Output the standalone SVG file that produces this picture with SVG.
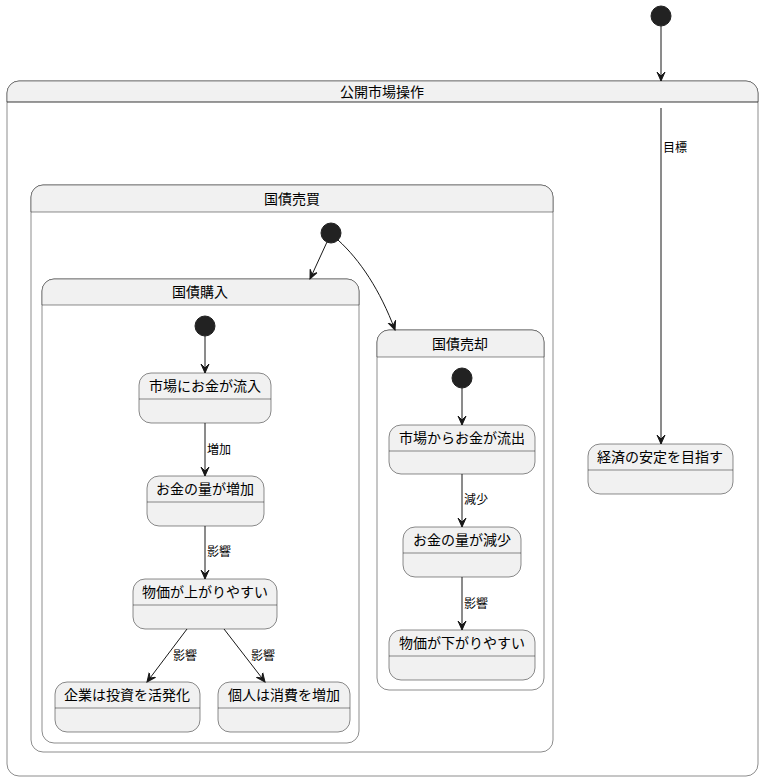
<svg xmlns="http://www.w3.org/2000/svg" width="764" height="781" viewBox="0 0 764 781">
<style>
.st{fill:#F1F1F1;stroke:#181818;stroke-width:0.5}
.dv{stroke:#181818;stroke-width:0.5;fill:none}
.t{font-family:"Noto Sans CJK JP","Liberation Sans",sans-serif;font-size:14px;fill:#000;text-anchor:middle}
.l{font-family:"Noto Sans CJK JP","Liberation Sans",sans-serif;font-size:12px;fill:#000}
.e{stroke:#181818;stroke-width:1;fill:none;marker-end:url(#ah)}
.s{fill:#222222;stroke:#222222}
</style>
<defs>
<marker id="ah" viewBox="0 0 10 10" refX="9" refY="5" markerWidth="10" markerHeight="10" markerUnits="userSpaceOnUse" orient="auto">
<path d="M0,1 L9,5 L0,9 L4,5 Z" fill="#181818" stroke="#181818" stroke-width="1"/>
</marker>
</defs>
<rect width="764" height="781" fill="#FFFFFF"/>
<g id="start_top"><circle class="s" cx="661" cy="16" r="10"/></g>
<g id="kokai">
<path class="st" d="M19,81 H746 A12,12 0 0 1 758,93 V764 A12,12 0 0 1 746,776 H19 A12,12 0 0 1 7,764 V93 A12,12 0 0 1 19,81 Z" style="fill:#FFFFFF"/>
<path class="st" d="M7,102 V93 A12,12 0 0 1 19,81 H746 A12,12 0 0 1 758,93 V102 Z"/>
<line class="dv" x1="7" y1="102" x2="758" y2="102"/>
<text class="t" x="382" y="97">公開市場操作</text>
</g>
<g id="keizai">
<rect class="st" x="588" y="444" width="145" height="50" rx="12"/>
<line class="dv" x1="588" y1="470" x2="733" y2="470"/>
<text class="t" x="660" y="462">経済の安定を目指す</text>
</g>
<g id="baibai">
<path class="st" d="M43,185 H541 A12,12 0 0 1 553,197 V740 A12,12 0 0 1 541,752 H43 A12,12 0 0 1 31,740 V197 A12,12 0 0 1 43,185 Z" style="fill:#FFFFFF"/>
<path class="st" d="M31,212 V197 A12,12 0 0 1 43,185 H541 A12,12 0 0 1 553,197 V212 Z"/>
<text class="t" x="292" y="204">国債売買</text>
</g>
<g id="start_baibai"><circle class="s" cx="331" cy="233" r="10"/></g>
<g id="konyu">
<path class="st" d="M54,279 H347 A12,12 0 0 1 359,291 V731 A12,12 0 0 1 347,743 H54 A12,12 0 0 1 42,731 V291 A12,12 0 0 1 54,279 Z" style="fill:#FFFFFF"/>
<path class="st" d="M42,305 V291 A12,12 0 0 1 54,279 H347 A12,12 0 0 1 359,291 V305 Z"/>
<text class="t" x="200" y="297">国債購入</text>
</g>
<g id="start_konyu"><circle class="s" cx="205" cy="326" r="10"/></g>
<g id="n1">
<rect class="st" x="139" y="373" width="132" height="50" rx="12"/>
<line class="dv" x1="139" y1="399" x2="271" y2="399"/>
<text class="t" x="205" y="391">市場にお金が流入</text>
</g>
<g id="n2">
<rect class="st" x="147" y="476" width="117" height="50" rx="12"/>
<line class="dv" x1="147" y1="502" x2="264" y2="502"/>
<text class="t" x="205" y="494">お金の量が増加</text>
</g>
<g id="n3">
<rect class="st" x="133" y="579" width="144" height="50" rx="12"/>
<line class="dv" x1="133" y1="605" x2="277" y2="605"/>
<text class="t" x="205" y="597">物価が上がりやすい</text>
</g>
<g id="n4">
<rect class="st" x="55" y="682" width="145" height="50" rx="12"/>
<line class="dv" x1="55" y1="708" x2="200" y2="708"/>
<text class="t" x="127" y="700">企業は投資を活発化</text>
</g>
<g id="n5">
<rect class="st" x="218" y="682" width="132" height="50" rx="12"/>
<line class="dv" x1="218" y1="708" x2="350" y2="708"/>
<text class="t" x="284" y="700">個人は消費を増加</text>
</g>
<g id="baikyaku">
<path class="st" d="M389,330 H532 A12,12 0 0 1 544,342 V678 A12,12 0 0 1 532,690 H389 A12,12 0 0 1 377,678 V342 A12,12 0 0 1 389,330 Z" style="fill:#FFFFFF"/>
<path class="st" d="M377,357 V342 A12,12 0 0 1 389,330 H532 A12,12 0 0 1 544,342 V357 Z"/>
<text class="t" x="460" y="349">国債売却</text>
</g>
<g id="start_baikyaku"><circle class="s" cx="462" cy="378" r="10"/></g>
<g id="m1">
<rect class="st" x="389" y="425" width="146" height="49" rx="12"/>
<line class="dv" x1="389" y1="451" x2="535" y2="451"/>
<text class="t" x="462" y="443">市場からお金が流出</text>
</g>
<g id="m2">
<rect class="st" x="403" y="527" width="118" height="50" rx="12"/>
<line class="dv" x1="403" y1="553" x2="521" y2="553"/>
<text class="t" x="462" y="545">お金の量が減少</text>
</g>
<g id="m3">
<rect class="st" x="389" y="630" width="146" height="50" rx="12"/>
<line class="dv" x1="389" y1="656" x2="535" y2="656"/>
<text class="t" x="462" y="648">物価が下がりやすい</text>
</g>
<g id="connectors">
<path class="e" d="M661,26 V81"/>
<path class="e" d="M661,108 V444"/>
<text class="l" x="663" y="152">目標</text>
<path class="e" d="M327,242 L310,279"/>
<path class="e" d="M338,240 C360,260 380,290 395,330"/>
<path class="e" d="M205,336 V373"/>
<path class="e" d="M205,423 V476"/>
<text class="l" x="207" y="454">増加</text>
<path class="e" d="M205,526 V579"/>
<text class="l" x="207" y="556">影響</text>
<path class="e" d="M187,629 L147,682"/>
<text class="l" x="173" y="660">影響</text>
<path class="e" d="M224,629 L265,682"/>
<text class="l" x="251" y="660">影響</text>
<path class="e" d="M462,388 V425"/>
<path class="e" d="M462,474 V527"/>
<text class="l" x="464" y="504">減少</text>
<path class="e" d="M462,577 V630"/>
<text class="l" x="464" y="608">影響</text>
</g>
</svg>
